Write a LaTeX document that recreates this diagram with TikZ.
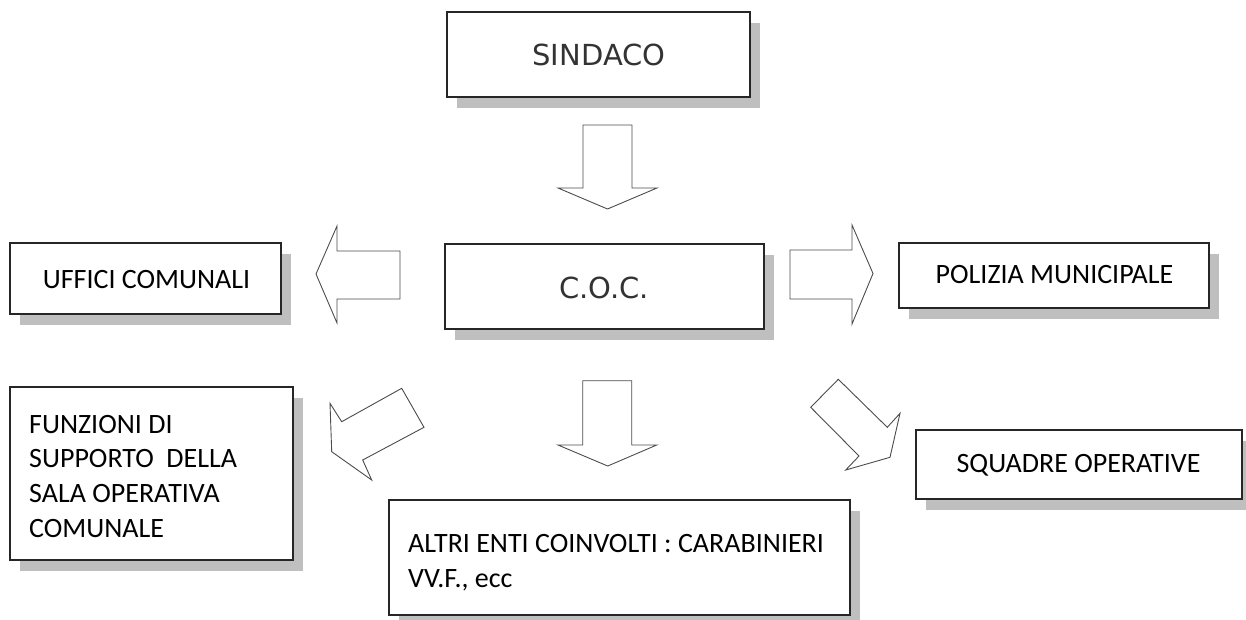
\documentclass[tikz,border=0pt]{standalone}
\usepackage{fontspec}
\setmainfont{Carlito}
\newfontfamily\dejavu{DejaVu Sans}
\usetikzlibrary{shadows}
\tikzset{
  box/.style={draw=black!85, line width=1.3pt, fill=white, inner sep=0pt,
    drop shadow={shadow xshift=10pt, shadow yshift=-11pt, fill=black!25, opacity=1}},
  lbl/.style={inner sep=0pt, text=black, font=\fontsize{28}{34.6}\selectfont},
  big/.style={inner sep=0pt, text=black!80, font=\dejavu\fontsize{29}{34}\selectfont},
  blockarrow/.style={draw=black!70, fill=white, line width=0.9pt, line join=miter}
}
\begin{document}
\begin{tikzpicture}[x=1pt, y=-1pt]
\useasboundingbox (0,0) rectangle (1246,619);
% boxes
\node[box, minimum width=303pt, minimum height=85pt] (sind) at (598.5,54.5) {};
\node[box, minimum width=319pt, minimum height=85pt] (coc) at (604.5,286.5) {};
\node[box, minimum width=271pt, minimum height=71pt] (uff) at (145.5,278.5) {};
\node[box, minimum width=310pt, minimum height=65pt] (pol) at (1054,275.5) {};
\node[box, minimum width=283pt, minimum height=173pt] (fun) at (151.5,473.5) {};
\node[box, minimum width=461pt, minimum height=115pt] (altri) at (619.5,557.5) {};
\node[box, minimum width=326pt, minimum height=69pt] (squ) at (1079,464.5) {};
% texts
\node[big, anchor=base] (sindt) at (599,65) {SINDACO};
\node[big, anchor=base] (coct) at (604,298) {C.O.C.};
\node[lbl, anchor=base] (ufft) at (146.5,288) {UFFICI COMUNALI};
\node[lbl, anchor=base] (polt) at (1054.5,283) {POLIZIA MUNICIPALE};
\node[lbl, anchor=base] (squt) at (1078.5,472) {SQUADRE OPERATIVE};
\node[lbl, anchor=base west, align=left] (funt) at (29,537) {FUNZIONI DI\\SUPPORTO\ \ DELLA\\SALA OPERATIVA\\COMUNALE};
\node[lbl, anchor=base west, align=left] (altrit) at (408,587) {ALTRI ENTI COINVOLTI : CARABINIERI\\VV.F., ecc};
% block arrows
\draw[blockarrow] (583,125) -- (632,125) -- (632,188) -- (657,188) -- (607.5,209) -- (558,188) -- (583,188) -- cycle;
\draw[blockarrow] (400,251) -- (337,251) -- (337,226) -- (316,274) -- (337,323) -- (337,299) -- (400,299) -- cycle;
\draw[blockarrow] (790,250) -- (852,250) -- (852,225) -- (873,273.5) -- (852,324) -- (852,299) -- (790,299) -- cycle;
\draw[blockarrow] (582.7,380.7) -- (631.7,380.7) -- (631.7,445) -- (656.7,445) -- (607.7,466) -- (558,445) -- (582.7,445) -- cycle;
\draw[blockarrow] (401.7,388.3) -- (424,427.3) -- (362.7,460) -- (371.7,480) -- (331.7,451.7) -- (330,403.3) -- (341.7,421.7) -- cycle;
\draw[blockarrow] (838.3,379.3) -- (887.3,427.3) -- (900,413.3) -- (890,457.3) -- (845.7,470) -- (859,456) -- (810.7,407.3) -- cycle;
\end{tikzpicture}
\end{document}
